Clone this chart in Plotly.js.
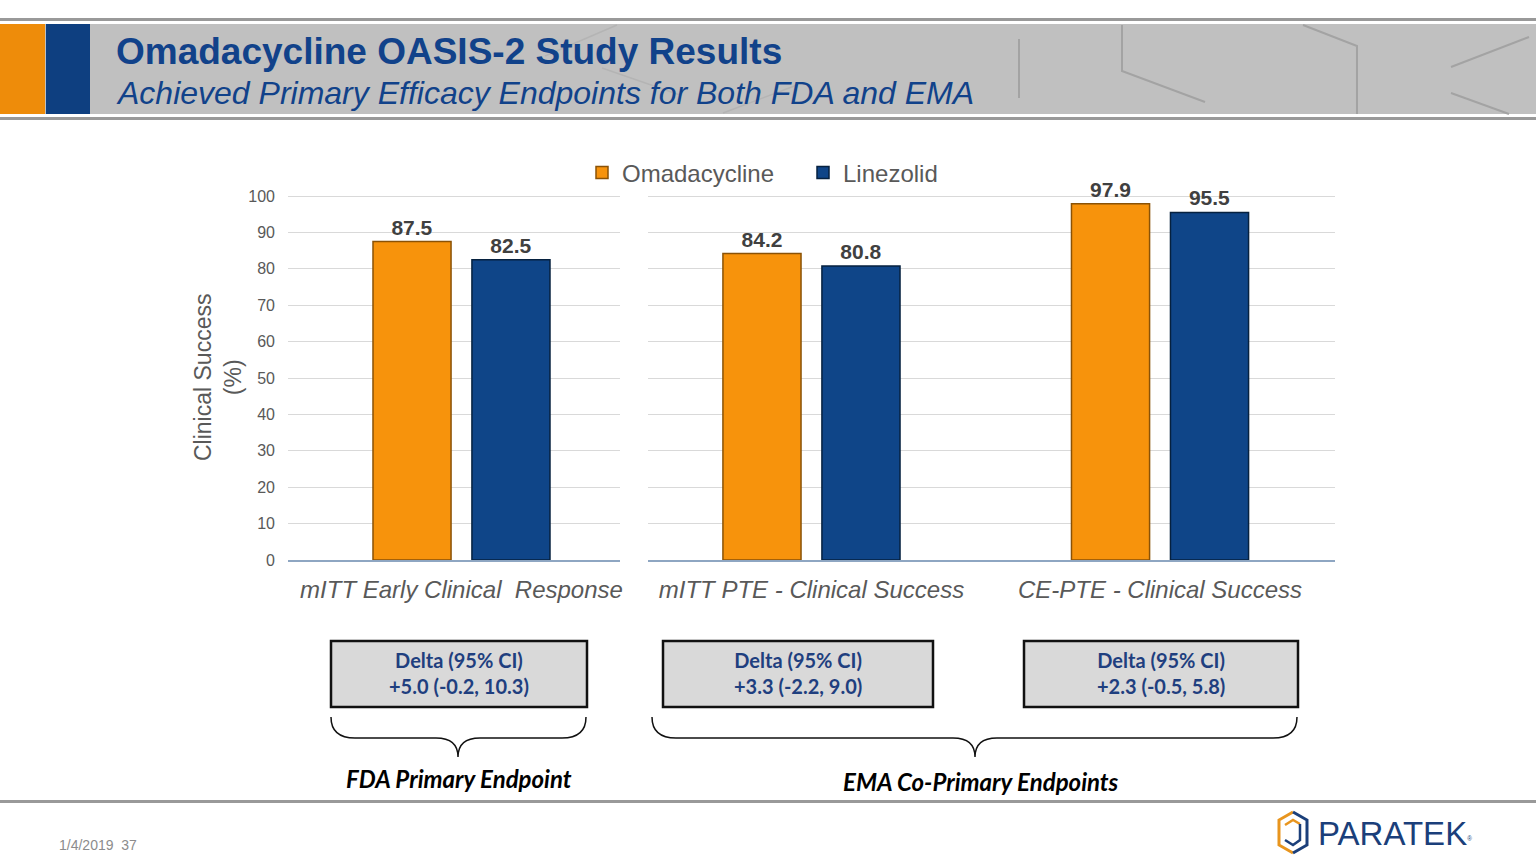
<!DOCTYPE html>
<html><head><meta charset="utf-8">
<script src="https://cdn.plot.ly/plotly-3.0.1.min.js"></script>
<style>html,body{margin:0;padding:0;background:#fff;}#chart{width:1536px;height:864px;}</style>
</head><body><div id="chart"></div>
<script>
// ---- data ----
const seriesNames = ["Omadacycline", "Linezolid"];
const categoriesFDA = ["mITT Early Clinical  Response"];
const categoriesEMA = ["mITT PTE - Clinical Success", "CE-PTE - Clinical Success"];
const omadaFDA = [87.5];
const linezFDA = [82.5];
const omadaEMA = [84.2, 97.9];
const linezEMA = [80.8, 95.5];
const yTicks = [0, 10, 20, 30, 40, 50, 60, 70, 80, 90, 100];
const deltaLines = ["+5.0 (-0.2, 10.3)", "+3.3 (-2.2, 9.0)", "+2.3 (-0.5, 5.8)"];
const groupLabels = ["FDA Primary Endpoint", "EMA Co-Primary Endpoints"];

// ---- helpers (pixel -> paper) ----
const W = 1536, H = 864;
const px = x => x / W, py = y => 1 - y / H;
function pathPx(cmds){
  return cmds.map(c => c[0] + ' ' + c.slice(1).map((v,i)=> i%2===0 ? px(v).toFixed(5) : py(v).toFixed(5)).join(' ')).join(' ');
}
const orange = '#F7930C', navy = '#0F4588';
const orangeLine = '#8a5206', navyLine = '#06213f';
const gray = '#595959';
const FONT = 'Liberation Sans, Arial, sans-serif';
const CAL = 'Lato, Carlito, sans-serif';

const barCommon = {type:'bar', texttemplate:'<b>%{y}</b>', textposition:'outside', cliponaxis:false,
  textfont:{family:FONT, size:21, color:'#404040'}, hoverinfo:'none'};

const traces = [
  Object.assign({}, barCommon, {x:categoriesFDA, y:omadaFDA, name:seriesNames[0], xaxis:'x', yaxis:'y', legendgroup:'o',
    marker:{color:orange, line:{color:orangeLine, width:1.5}}}),
  Object.assign({}, barCommon, {x:categoriesFDA, y:linezFDA, name:seriesNames[1], xaxis:'x', yaxis:'y', legendgroup:'l',
    marker:{color:navy, line:{color:navyLine, width:1.5}}}),
  Object.assign({}, barCommon, {x:categoriesEMA, y:omadaEMA, name:seriesNames[0], xaxis:'x2', yaxis:'y2', legendgroup:'o', showlegend:false,
    marker:{color:orange, line:{color:orangeLine, width:1.5}}}),
  Object.assign({}, barCommon, {x:categoriesEMA, y:linezEMA, name:seriesNames[1], xaxis:'x2', yaxis:'y2', legendgroup:'l', showlegend:false,
    marker:{color:navy, line:{color:navyLine, width:1.5}}})
];

const yTop = 100.4;
const yDom = [py(560), py(560 - 364 * yTop / 100)];
const catFont = {family:FONT, size:24, color:gray, style:'italic'};
const gridColor = '#d9d9d9', baseColor = '#8ea6c2';

const shapes = [];
const annotations = [];

// Header
shapes.push({type:'rect', xref:'paper', yref:'paper', x0:0, x1:1, y0:py(18), y1:py(21), fillcolor:'#999999', line:{width:0}, layer:'below'});
shapes.push({type:'rect', xref:'paper', yref:'paper', x0:0, x1:1, y0:py(24), y1:py(114), fillcolor:'#c0c0c0', line:{width:0}, layer:'below'});
shapes.push({type:'rect', xref:'paper', yref:'paper', x0:0, x1:1, y0:py(117), y1:py(120), fillcolor:'#999999', line:{width:0}, layer:'below'});
shapes.push({type:'rect', xref:'paper', yref:'paper', x0:0, x1:px(45), y0:py(24), y1:py(114), fillcolor:'#EE8C0A', line:{width:0}, layer:'below'});
shapes.push({type:'rect', xref:'paper', yref:'paper', x0:px(46), x1:px(90), y0:py(24), y1:py(114), fillcolor:'#0E3F80', line:{width:0}, layer:'below'});
const deco = [
  [['M',1019,39],['L',1019,98]],
  [['M',1122,25],['L',1122,71],['L',1205,102]],
  [['M',1303,25],['L',1357,46],['L',1357,114]],
  [['M',1451,67],['L',1529,37]],
  [['M',1451,93],['L',1509,114]]
];
deco.forEach(d => shapes.push({type:'path', xref:'paper', yref:'paper', path:pathPx(d), line:{color:'#a3a3a3', width:2}, layer:'below'}));
const faint = [
  [['M',617,25],['L',545,56]],
  [['M',602,68],['L',680,95]],
  [['M',723,113],['L',797,85]]
];
faint.forEach(d => shapes.push({type:'path', xref:'paper', yref:'paper', path:pathPx(d), line:{color:'#b4b4b4', width:1.5}, layer:'below'}));
annotations.push({xref:'paper', yref:'paper', x:px(114), y:py(51), xanchor:'left', yanchor:'middle', showarrow:false,
  text:'<b>Omadacycline OASIS-2 Study Results</b>', font:{family:FONT, size:37, color:'#11428A'}});
annotations.push({xref:'paper', yref:'paper', x:px(114), y:py(93), xanchor:'left', yanchor:'middle', showarrow:false,
  text:'<i>Achieved Primary Efficacy Endpoints for Both FDA and EMA</i>', font:{family:FONT, size:32, color:'#11428A'}});

// Y-axis title
annotations.push({xref:'paper', yref:'paper', x:px(218), y:py(378), xanchor:'center', yanchor:'middle', showarrow:false, textangle:-90,
  text:'Clinical Success<br>(%)', font:{family:FONT, size:23, color:gray}});

// Delta boxes
const boxes = [[331,587],[663,933],[1024,1298]];
boxes.forEach((b,i) => {
  shapes.push({type:'rect', xref:'paper', yref:'paper', x0:px(b[0]), x1:px(b[1]), y0:py(641), y1:py(707), fillcolor:'#d9d9d9', line:{color:'#111111', width:2.5}});
  annotations.push({xref:'paper', yref:'paper', x:px((b[0]+b[1])/2), y:py(673), xanchor:'center', yanchor:'middle', showarrow:false,
    text:'<b>Delta (95% CI)</b><br><b>'+deltaLines[i]+'</b>', align:'center',
    font:{family:CAL, size:20, color:'#1F3F7F'}});
});

// Braces
function brace(x0, x1, tip, top, mid, bot){
  return pathPx([['M',x0,top],['Q',x0,mid,x0+24,mid],['L',tip-22,mid],['Q',tip,mid,tip,bot],['Q',tip,mid,tip+22,mid],['L',x1-24,mid],['Q',x1,mid,x1,top]]);
}
shapes.push({type:'path', xref:'paper', yref:'paper', path:brace(331,586,458,717,738,757), line:{color:'#111111', width:1.5}});
shapes.push({type:'path', xref:'paper', yref:'paper', path:brace(652,1297,975,717,738,757), line:{color:'#111111', width:1.5}});
annotations.push({xref:'paper', yref:'paper', x:px(459), y:py(778), xanchor:'center', yanchor:'middle', showarrow:false,
  text:'<b><i>'+groupLabels[0]+'</i></b>', font:{family:CAL, size:24, color:'#000'}});
annotations.push({xref:'paper', yref:'paper', x:px(981), y:py(781), xanchor:'center', yanchor:'middle', showarrow:false,
  text:'<b><i>'+groupLabels[1]+'</i></b>', font:{family:CAL, size:24, color:'#000'}});

// Footer
shapes.push({type:'rect', xref:'paper', yref:'paper', x0:0, x1:1, y0:py(800), y1:py(803), fillcolor:'#999999', line:{width:0}});
annotations.push({xref:'paper', yref:'paper', x:px(57), y:py(845), xanchor:'left', yanchor:'middle', showarrow:false,
  text:'1/4/2019  37', font:{family:FONT, size:14, color:'#8c8c8c'}});
// logo icon
shapes.push({type:'path', xref:'paper', yref:'paper', line:{color:'#E8951E', width:3},
  path:pathPx([['M',1293,812],['L',1279,820],['L',1279,845],['L',1293,853]])});
shapes.push({type:'path', xref:'paper', yref:'paper', line:{color:'#E8951E', width:2.5},
  path:pathPx([['M',1285,825],['L',1293,820],['L',1300,824]])});
shapes.push({type:'path', xref:'paper', yref:'paper', line:{color:'#1B3F7A', width:3},
  path:pathPx([['M',1293,812],['L',1307,820],['L',1307,845],['L',1293,853]])});
shapes.push({type:'path', xref:'paper', yref:'paper', line:{color:'#1B3F7A', width:2.5},
  path:pathPx([['M',1300,824],['L',1300,840],['L',1293,845],['L',1285,840]])});
annotations.push({xref:'paper', yref:'paper', x:px(1316), y:py(833), xanchor:'left', yanchor:'middle', showarrow:false,
  text:'PARATEK<span style="font-size:9px"><sup>®</sup></span>', font:{family:FONT, size:33, color:'#1B3F7A'}});

const layout = {
  width:W, height:H, autosize:false, margin:{l:0,r:0,t:0,b:0,pad:0},
  paper_bgcolor:'#ffffff', plot_bgcolor:'rgba(0,0,0,0)',
  barmode:'group', bargap:0.432, bargroupgap:0.211,
  showlegend:true,
  legend:{orientation:'h', x:px(582), y:py(173), xanchor:'left', yanchor:'middle',
    font:{family:FONT, size:24, color:gray}, itemclick:false, bgcolor:'rgba(0,0,0,0)', entrywidth:176, entrywidthmode:'pixels'},
  xaxis:{domain:[px(288), px(620)], anchor:'y', type:'category', range:[-0.498, 0.455], showgrid:false,
    showline:true, linecolor:baseColor, linewidth:1.5, ticks:'', tickfont:catFont, ticklabelstandoff:8, fixedrange:true},
  xaxis2:{domain:[px(648), px(1335)], anchor:'y2', type:'category', range:[-0.469, 1.502], showgrid:false,
    showline:true, linecolor:baseColor, linewidth:1.5, ticks:'', tickfont:catFont, ticklabelstandoff:8, fixedrange:true},
  yaxis:{domain:yDom, anchor:'x', range:[0,yTop], tickvals:yTicks, showgrid:true, gridcolor:gridColor, gridwidth:1,
    zeroline:false, showline:false, ticks:'', tickfont:{family:FONT, size:16, color:gray}, ticklabelstandoff:12, fixedrange:true},
  yaxis2:{domain:yDom, anchor:'x2', range:[0,yTop], tickvals:yTicks, showgrid:true, gridcolor:gridColor, gridwidth:1,
    zeroline:false, showline:false, showticklabels:false, ticks:'', fixedrange:true},
  shapes:shapes, annotations:annotations
};
Plotly.newPlot('chart', traces, layout, {displayModeBar:false, staticPlot:true});
</script></body></html>
